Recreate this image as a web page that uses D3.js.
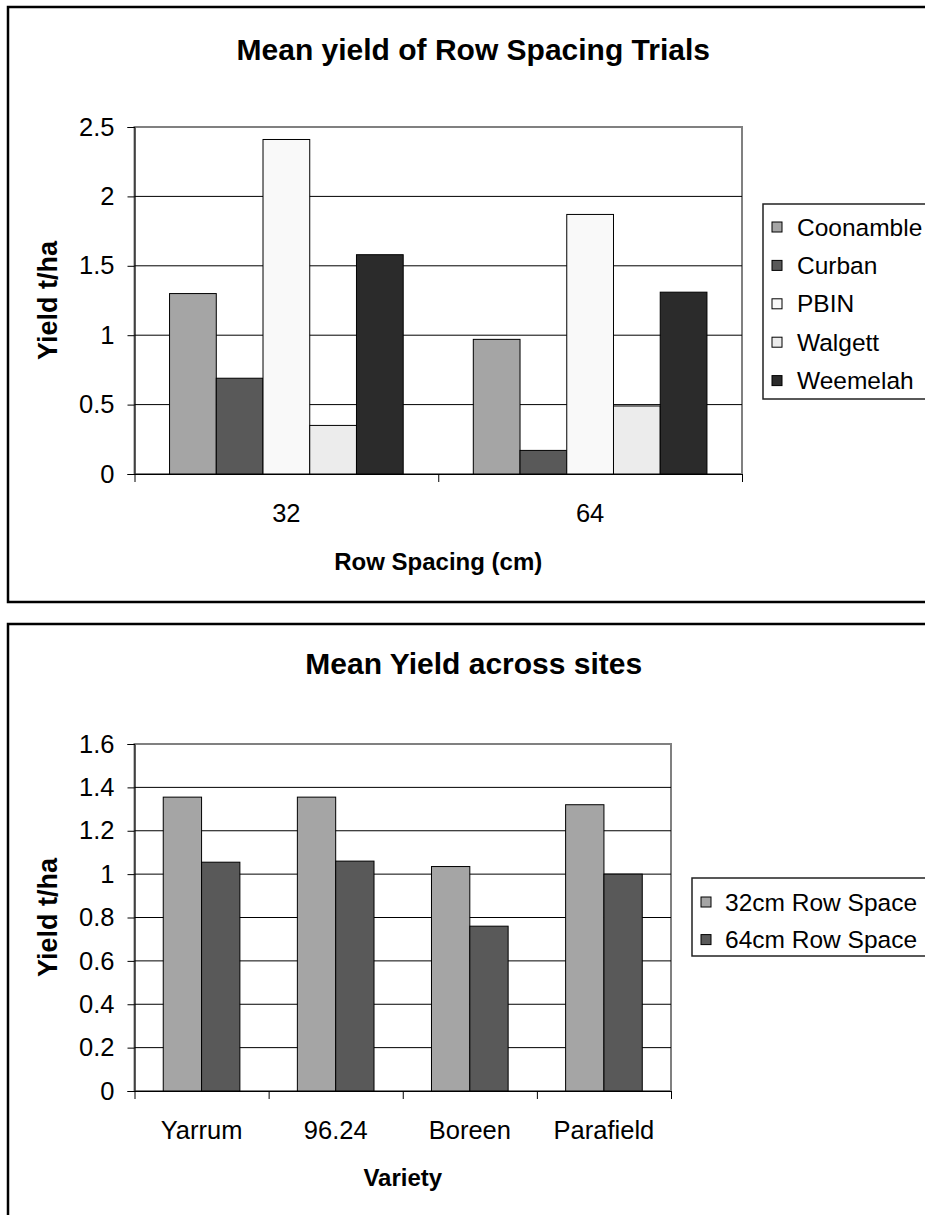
<!DOCTYPE html>
<html>
<head>
<meta charset="utf-8">
<script src="https://cdn.jsdelivr.net/npm/d3@7"></script>
<style>
  html, body { margin: 0; padding: 0; background: #fff; overflow: hidden; }
  svg { display: block; font-family: 'Liberation Sans', Arial, sans-serif; }
</style>
</head>
<body>
<div id="chart"></div>
<script>
// top chart data
const spacingCats = ['32', '64'];
const sites = ['Coonamble', 'Curban', 'PBIN', 'Walgett', 'Weemelah'];
const siteColors = ['#a5a5a5', '#595959', '#f9f9f9', '#ececec', '#2b2b2b'];
const yield32 = [1.30, 0.69, 2.41, 0.35, 1.58];
const yield64 = [0.97, 0.17, 1.87, 0.49, 1.31];
const topTicks = [0, 0.5, 1, 1.5, 2, 2.5];

// bottom chart data
const varieties = ['Yarrum', '96.24', 'Boreen', 'Parafield'];
const rowSeries = ['32cm Row Space', '64cm Row Space'];
const rowColors = ['#a5a5a5', '#595959'];
const row32 = [1.355, 1.355, 1.035, 1.32];
const row64 = [1.055, 1.06, 0.76, 1.0];
const bottomTicks = [0, 0.2, 0.4, 0.6, 0.8, 1, 1.2, 1.4, 1.6];

const W = 925, H = 1215;
const svg = d3.select('#chart').append('svg')
  .attr('width', W).attr('height', H);

function drawChart(cfg) {
  const g = svg.append('g');
  const { left, right, top, bottom } = cfg.plot;

  // outer chart frame, running off the right edge of the page
  g.append('rect')
    .attr('x', cfg.frame.x).attr('y', cfg.frame.y)
    .attr('width', cfg.frame.w).attr('height', cfg.frame.h)
    .attr('fill', '#fff').attr('stroke', '#000').attr('stroke-width', 2.5);

  g.append('text')
    .attr('x', (left + right) / 2 + cfg.titleDx).attr('y', cfg.titleY)
    .attr('text-anchor', 'middle')
    .attr('font-size', 30).attr('font-weight', 'bold')
    .text(cfg.title);

  const y = d3.scaleLinear().domain(cfg.yDomain).range([bottom, top]);
  const x0 = d3.scaleBand().domain(cfg.cats).range([left, right]);
  const nSer = cfg.series.length;
  const bw = x0.bandwidth() / (nSer + 1.5);
  const x1 = d3.scaleBand().domain(d3.range(nSer))
    .range([bw * 0.75, x0.bandwidth() - bw * 0.75]);

  // plot area border (grey) and gridlines
  g.append('rect')
    .attr('x', left).attr('y', top)
    .attr('width', right - left).attr('height', bottom - top)
    .attr('fill', 'none').attr('stroke', '#808080').attr('stroke-width', 2);

  g.append('g').selectAll('line')
    .data(cfg.ticks.slice(1, -1))
    .join('line')
    .attr('x1', left).attr('x2', right)
    .attr('y1', d => y(d)).attr('y2', d => y(d))
    .attr('stroke', '#000').attr('stroke-width', 1);

  // bars
  const rows = cfg.cats.map((c, i) => ({ cat: c, vals: cfg.values.map(v => v[i]) }));
  g.append('g').selectAll('g')
    .data(rows)
    .join('g')
    .attr('transform', d => `translate(${x0(d.cat)},0)`)
    .selectAll('rect')
    .data(d => d.vals)
    .join('rect')
    .attr('x', (d, i) => x1(i))
    .attr('width', x1.bandwidth())
    .attr('y', d => y(d))
    .attr('height', d => y(0) - y(d))
    .attr('fill', (d, i) => cfg.colors[i])
    .attr('stroke', '#000').attr('stroke-width', 1);

  // y axis
  const yAxis = g.append('g')
    .attr('transform', `translate(${left},0)`)
    .call(d3.axisLeft(y).tickValues(cfg.ticks).tickFormat(d3.format('~g'))
      .tickSize(7).tickPadding(13));
  yAxis.select('.domain').attr('stroke', '#000');
  yAxis.selectAll('text').attr('font-size', 25.5).attr('font-family', null).attr('fill', '#000');

  // x axis: labels at centres, ticks between categories
  const xAxis = g.append('g')
    .attr('transform', `translate(0,${bottom})`)
    .call(d3.axisBottom(x0).tickSize(0).tickPadding(30));
  xAxis.select('.domain').attr('stroke', '#000');
  xAxis.selectAll('text').attr('font-size', 25.5).attr('font-family', null).attr('fill', '#000');

  const xb = d3.scaleLinear().domain([0, cfg.cats.length]).range([left, right]);
  g.append('g')
    .attr('transform', `translate(0,${bottom})`)
    .call(d3.axisBottom(xb).tickValues(d3.range(cfg.cats.length + 1)).tickFormat('').tickSize(8))
    .call(s => s.select('.domain').remove());

  // axis titles
  g.append('text')
    .attr('x', (left + right) / 2).attr('y', cfg.xTitleY)
    .attr('text-anchor', 'middle')
    .attr('font-size', 24).attr('font-weight', 'bold')
    .text(cfg.xTitle);

  g.append('text')
    .attr('transform', `translate(57,${(top + bottom) / 2}) rotate(-90)`)
    .attr('text-anchor', 'middle')
    .attr('font-size', 27).attr('font-weight', 'bold')
    .text('Yield t/ha');

  // legend
  const lg = g.append('g');
  lg.append('rect')
    .attr('x', cfg.legend.x).attr('y', cfg.legend.y)
    .attr('width', 600).attr('height', cfg.legend.h)
    .attr('fill', '#fff').attr('stroke', '#222').attr('stroke-width', 1.5);
  const items = lg.selectAll('g.item')
    .data(cfg.series)
    .join('g')
    .attr('class', 'item')
    .attr('transform', (d, i) => `translate(${cfg.legend.x + 9},${cfg.legend.first + i * cfg.legend.step})`);
  items.append('rect')
    .attr('x', 0).attr('y', -5).attr('width', 10).attr('height', 10)
    .attr('fill', (d, i) => cfg.colors[i])
    .attr('stroke', '#000').attr('stroke-width', 1);
  items.append('text')
    .attr('x', cfg.legend.textDx).attr('dy', '0.35em')
    .attr('font-size', 24.5)
    .text(d => d);
}

drawChart({
  frame: { x: 8, y: 7, w: 2000, h: 595 },
  title: 'Mean yield of Row Spacing Trials', titleY: 60, titleDx: 35,
  plot: { left: 134.5, right: 742, top: 127, bottom: 474 },
  cats: spacingCats, series: sites, colors: siteColors,
  values: sites.map((s, i) => [yield32[i], yield64[i]]),
  yDomain: [0, 2.5], ticks: topTicks,
  xTitle: 'Row Spacing (cm)', xTitleY: 570,
  legend: { x: 763, y: 204, h: 195, first: 227, step: 38.4, textDx: 25 }
});

drawChart({
  frame: { x: 8, y: 624, w: 2000, h: 620 },
  title: 'Mean Yield across sites', titleY: 674, titleDx: 71,
  plot: { left: 134.5, right: 671, top: 744, bottom: 1091 },
  cats: varieties, series: rowSeries, colors: rowColors,
  values: [row32, row64],
  yDomain: [0, 1.6], ticks: bottomTicks,
  xTitle: 'Variety', xTitleY: 1186,
  legend: { x: 692, y: 878, h: 78, first: 902, step: 37.6, textDx: 24 }
});
</script>
</body>
</html>
